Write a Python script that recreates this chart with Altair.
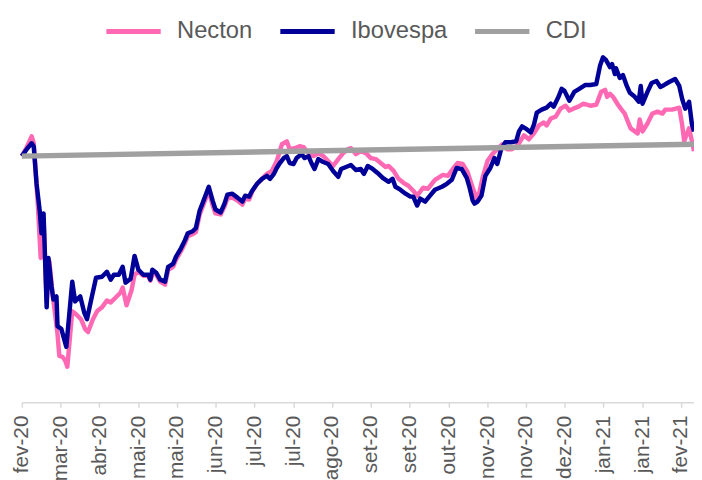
import altair as alt
import pandas as pd

tick_labels = ["fev-20", "mar-20", "abr-20", "mai-20", "mai-20", "jun-20", "jul-20", "jul-20", "ago-20",
               "set-20", "set-20", "out-20", "nov-20", "nov-20", "dez-20", "jan-21", "jan-21", "fev-21"]
tick_days = [i * 15 for i in range(len(tick_labels))]

series = ["Necton", "Ibovespa", "CDI"]
colors = ["#FF69B4", "#000099", "#A0A0A0"]

necton_day = [0, 1.9, 3.8, 4.6, 6.1, 7.3, 8.4, 9.6, 10.7, 11.9, 13.0, 13.8, 14.5, 15.7, 16.8, 17.6, 19.5, 21.0,
              22.9, 24.5, 25.6, 27.5, 29.1, 31.0, 32.9, 34.4, 36.3, 38.2, 39.0, 40.5, 42.4, 43.6, 45.1, 47.0,
              48.9, 49.7, 50.9, 52.0, 53.5, 55.4, 56.6, 58.5, 59.6, 61.6, 63.1, 64.2, 66.1, 67.3, 68.8, 70.0,
              72.3, 73.8, 74.9, 76.9, 78.4, 79.5, 81.4, 83.4, 85.3, 86.4, 87.9, 89.1, 91.0, 92.9, 94.8, 96.7,
              98.6, 100.6, 102.5, 103.6, 105.5, 107.4, 109.0, 110.9, 112.8, 114.7, 116.6, 118.5, 120.4, 122.4,
              124.3, 126.2, 127.3, 129.2, 131.1, 133.1, 135.0, 136.9, 138.8, 140.7, 141.9, 143.8, 145.7, 147.6,
              149.5, 151.4, 152.9, 155.2, 157.1, 159.8, 162.9, 164.8, 166.7, 168.6, 170.5, 172.4, 174.4, 176.3,
              178.2, 180.1, 182.0, 183.9, 185.8, 187.7, 189.6, 191.2, 192.3, 194.2, 196.1, 198.1, 200.0, 201.9,
              203.0, 204.6, 206.5, 208.4, 210.3, 211.8, 213.3, 215.3, 217.2, 219.9, 222.2, 224.1, 225.6, 226.4,
              227.5, 228.7, 229.4, 230.6, 231.7, 233.2, 234.4, 235.5, 237.1, 238.2, 239.0, 240.1, 242.0, 243.9,
              245.9, 247.8, 248.9, 251.6, 254.3, 255.4, 256.2, 257.3, 258.1, 259.2, 260.0]
necton_val = [0, 2.25, 5, 3.25, -11.25, -25.75, -15.75, -36.75, -26.75, -35, -40.75, -45, -50.5, -50.75, -51.75,
              -53.25, -39.25, -40, -41.25, -43.75, -44.5, -41.25, -39.25, -38.25, -36.5, -37, -35.75, -34.5,
              -33.25, -37.75, -34, -30, -29.25, -30.25, -30.25, -31.5, -29.25, -30, -31.75, -32.5, -28.75, -28,
              -26.25, -24, -22, -20.25, -19.75, -19.25, -14.75, -12.75, -8.75, -12.5, -14.5, -14.75, -12.75,
              -10.75, -10.5, -11.25, -12.25, -10.75, -11, -9, -7, -5.75, -4.5, -3.75, -1.25, 3, 3.75, 1.75, 2,
              2.5, 2.25, 0.75, 0, 0.75, 0, -1.25, -2.5, -0.75, 0.75, 1.75, 2, 0.5, 1.25, 0.75, -0.5, -0.75,
              -1.75, -2.75, -2.5, -3.75, -5.75, -6.75, -7.5, -8.75, -10, -8, -8.25, -6, -4.75, -5, -3.25, -1.75,
              -2, -4, -8, -11.25, -5.5, -1.25, 0.5, 1.75, 3, 1.75, 1.75, 2.5, 3.25, 5.25, 4.25, 5.75, 7.75, 8.5,
              7.75, 9.5, 10, 12, 12.75, 11.5, 12, 12.5, 13.25, 12.75, 13, 16.25, 16.75, 15, 15.75, 15, 14.25, 13,
              12, 10.75, 8.75, 7, 6.25, 5.75, 9.25, 6.25, 8.25, 10.75, 11.25, 10.75, 11.75, 11.75, 12.25, 8,
              3.75, 5.75, 7, 3.75, 1.25]

ibov_day = [0, 1.9, 3.8, 4.6, 5.7, 6.9, 7.6, 8.4, 9.6, 10.3, 11.5, 12.2, 13.4, 13.8, 15.3, 17.2, 19.5, 20.6,
            22.6, 24.1, 25.2, 27.1, 28.7, 31.0, 32.9, 34.4, 35.6, 37.5, 39.0, 40.1, 42.1, 43.6, 45.1, 47.0,
            48.9, 49.7, 50.5, 52.0, 53.5, 55.4, 56.6, 58.5, 59.6, 61.6, 63.1, 64.2, 66.1, 67.3, 68.8, 70.0,
            72.3, 73.8, 74.9, 76.9, 78.4, 79.5, 81.4, 83.4, 85.3, 86.4, 87.9, 89.1, 91.0, 92.9, 94.8, 96.0,
            97.5, 98.6, 99.8, 101.3, 102.5, 103.6, 105.1, 106.3, 108.2, 109.4, 110.9, 112.0, 113.2, 114.7,
            116.6, 118.5, 120.4, 122.4, 123.5, 125.4, 127.3, 129.2, 131.1, 132.3, 133.8, 135.7, 137.6, 139.6,
            141.9, 143.4, 144.5, 146.4, 148.4, 150.3, 151.4, 152.9, 154.1, 156.0, 157.9, 159.8, 162.5, 164.4,
            166.3, 168.2, 170.1, 172.1, 173.2, 174.4, 175.1, 176.3, 177.8, 179.3, 181.2, 182.8, 183.9, 185.4,
            187.0, 189.3, 191.2, 192.3, 193.5, 195.4, 196.9, 198.1, 199.2, 201.1, 203.0, 204.6, 205.7, 207.6,
            208.8, 209.9, 211.8, 213.7, 215.6, 218.0, 219.9, 222.2, 223.7, 224.8, 226.0, 227.5, 228.3, 229.4,
            229.8, 231.3, 232.5, 234.0, 235.2, 237.1, 238.6, 239.4, 240.1, 242.0, 243.6, 245.5, 247.0, 248.5,
            250.4, 252.7, 254.3, 255.4, 256.6, 258.1, 259.2, 260.0]
ibov_val = [0, 1.75, 3.25, 2.5, -7, -13.75, -19.5, -14.5, -38.25, -25.75, -33, -36.25, -35.5, -43, -43.75,
            -48.25, -31.75, -36.75, -35.5, -39.5, -41.25, -35.5, -30.75, -30.5, -29.25, -31.25, -30, -30, -28,
            -32, -31, -25.25, -28.75, -30, -30, -31.25, -28.75, -29.5, -31.25, -31.75, -28, -27.25, -25.5,
            -23.25, -21.25, -19.5, -19, -18.25, -13.75, -11.75, -7.75, -11.25, -13.5, -14.25, -12, -9.75, -9.5,
            -10.5, -11.5, -10, -10.25, -8.75, -7, -5.75, -5, -5.75, -4.5, -3, -1.75, -0.5, 0, -1.75, -2, -0.5,
            0.5, -0.5, 0, -1.75, -3.25, -0.75, -1.5, -2, -3.75, -5.25, -3.25, -2.75, -2.25, -3.5, -3.25, -4.5,
            -2.5, -3.25, -4.25, -5.5, -6.5, -5.75, -7.75, -8.5, -9.5, -10.25, -10.25, -12.5, -10.75, -11.5, -10,
            -8.5, -7.75, -7, -6, -3, -3.25, -5.5, -8, -11.25, -12, -11.5, -10, -5, -3, -0.5, -2, 1.75, 3.5, 3.5,
            3.75, 6.25, 7.5, 6.75, 6, 8, 11, 11.75, 12.25, 13.25, 12.5, 15, 17, 16.5, 14, 16.25, 17, 18, 18,
            18.25, 23, 25, 24.25, 22.5, 23.25, 20.75, 22.25, 19.75, 20.5, 17.75, 16, 15, 13.75, 17.75, 13.25,
            16.25, 18.5, 19, 17.5, 18, 18.75, 19.5, 17.75, 14.5, 12, 13.75, 8, 6.25]

cdi_day = [0, 260]
cdi_val = [0, 3]

df = pd.concat([
    pd.DataFrame({"day": necton_day, "val": necton_val, "serie": "Necton"}),
    pd.DataFrame({"day": ibov_day, "val": ibov_val, "serie": "Ibovespa"}),
    pd.DataFrame({"day": cdi_day, "val": cdi_val, "serie": "CDI"}),
], ignore_index=True)

label_js = "[" + ",".join("'" + t + "'" for t in tick_labels) + "][round(datum.value / 15)]"

x = alt.X("day:Q",
          scale=alt.Scale(domain=[0, 260], nice=False, zero=False),
          axis=alt.Axis(values=tick_days, labelExpr=label_js, labelAngle=-90, title=None, grid=False,
                        domainColor="#d9d9d9", domainWidth=1.5, tickColor="#d9d9d9", tickWidth=1.5,
                        tickSize=5, labelPadding=8, labelFontSize=21, labelFont="Liberation Sans",
                        labelColor="#595959", labelOverlap=False))
y = alt.Y("val:Q", scale=alt.Scale(domain=[-62.25, 27.75], nice=False, zero=False), axis=None)
color = alt.Color("serie:N", scale=alt.Scale(domain=series, range=colors),
                  legend=alt.Legend(orient="none", legendX=83, legendY=-45, direction="horizontal",
                                    title=None, symbolType="stroke", symbolStrokeWidth=5, symbolSize=3025,
                                    labelFontSize=24, labelFont="Liberation Sans", labelColor="#595959",
                                    labelOffset=14, columnPadding=17, padding=0))

base = alt.Chart(df)
layers = []
for name, w in [("Necton", 4.5), ("Ibovespa", 4.5), ("CDI", 5.5)]:
    layers.append(base.transform_filter(alt.datum.serie == name)
                  .mark_line(strokeWidth=w, strokeJoin="round")
                  .encode(x=x, y=y, color=color))

chart = alt.layer(*layers).properties(
    width=680, height=360,
    autosize=alt.AutoSizeParams(type="none"),
    padding={"left": 14, "top": 36, "right": 0, "bottom": 90},
).configure_view(stroke=None)

chart.save("out.html", embed_options={"renderer": "svg", "actions": False})
